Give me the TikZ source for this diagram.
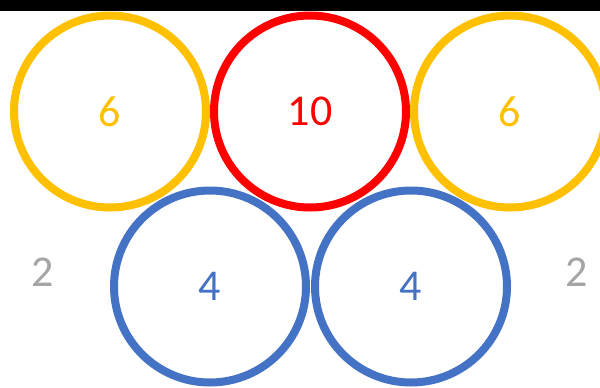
\documentclass[tikz,border=0pt]{standalone}
\usepackage{fontspec}
\setmainfont{Carlito}
\usepackage{tikz}
\usetikzlibrary{positioning}
\definecolor{ringyellow}{HTML}{FFC000}
\definecolor{ringred}{HTML}{FF0000}
\definecolor{ringblue}{HTML}{4472C4}
\definecolor{sidegray}{HTML}{A5A5A5}
\tikzset{
  ring/.style={circle, draw=#1, text=#1, line width=8*0.75pt, minimum size=192*0.75pt, inner sep=0pt,
    font=\fontsize{33}{40}\selectfont},
  sidenum/.style={text=sidegray, font=\fontsize{33}{40}\selectfont}
}

\begin{document}
\begin{tikzpicture}[x=0.75pt, y=-0.75pt]
  \useasboundingbox (0,0) rectangle (600,387);
  \fill[white] (0,0) rectangle (600,387);
  \fill[black] (0,0) rectangle (600,11);
  % top row
  \node[ring=ringyellow] (leftsix) at (110,111.5) {6};
  \node[ring=ringred] (ten) at (310,111.5) {10};
  \node[ring=ringyellow] (rightsix) at (510,111.5) {6};
  % bottom row
  \node[ring=ringblue] (leftfour) at (210,286.5) {4};
  \node[ring=ringblue] (rightfour) at (411,286.5) {4};
  % outside
  \node[sidenum] (lefttwo) at (43,272) {2};
  \node[sidenum] (righttwo) at (577,272) {2};
\end{tikzpicture}
\end{document}
